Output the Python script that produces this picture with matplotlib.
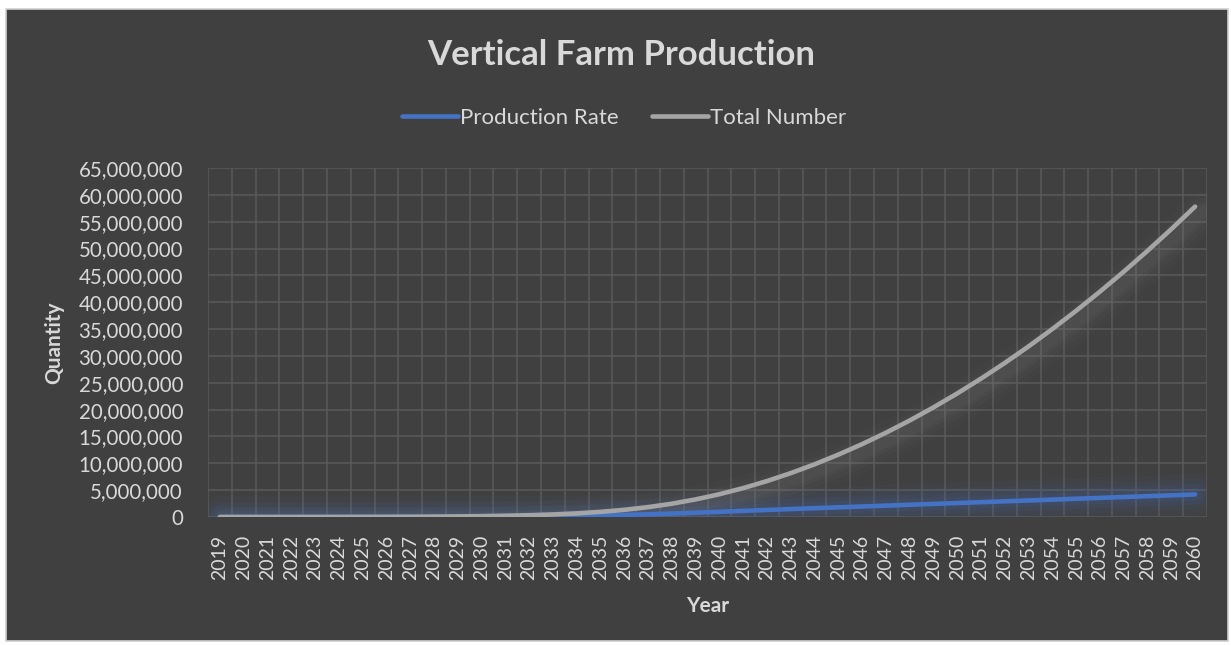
import matplotlib
matplotlib.use("Agg")
import matplotlib.pyplot as plt
from matplotlib.patches import Rectangle
from matplotlib.ticker import FuncFormatter, MultipleLocator, FixedLocator

years = list(range(2019, 2061))

production_rate = [
    120, 240, 480, 960, 1900, 3800, 7500, 12000, 18000, 26000,
    37000, 52000, 72000, 100000, 140000, 200000, 280000, 380000, 500000, 640000,
    800000, 970000, 1140000, 1310000, 1480000, 1640000, 1800000, 1960000, 2120000, 2280000,
    2440000, 2600000, 2760000, 2920000, 3080000, 3240000, 3400000, 3560000, 3720000, 3880000,
    4040000, 4200000,
]

total_number = [
    120, 360, 840, 1800, 3700, 7500, 15000, 27000, 45000, 71000,
    108000, 160000, 232000, 332000, 472000, 672000, 952000, 1332000, 1832000, 2472000,
    3272000, 4242000, 5382000, 6692000, 8172000, 9812000, 11612000, 13572000, 15692000, 17972000,
    20412000, 23012000, 25772000, 28692000, 31772000, 35012000, 38412000, 41972000, 45692000, 49572000,
    53612000, 57812000,
]

BG = "#404040"
GRID = "#585858"
TEXT = "#d9d9d9"
BLUE = "#4472c4"
GRAY = "#a5a5a5"
FONT = "Lato"

W, H = 1231, 645
fig = plt.figure(figsize=(W / 100, H / 100), dpi=100, facecolor="white")

# dark chart panel with a thin light border
bg = fig.add_axes([0, 0, 1, 1], zorder=0)
bg.set_xlim(0, W)
bg.set_ylim(H, 0)
bg.axis("off")
bg.add_patch(Rectangle((6, 9), W - 9, H - 13, facecolor=BG, edgecolor="#d0d0d0", linewidth=1.2))

ax = fig.add_axes([208 / W, 1 - 517 / H, (1207 - 208) / W, (517 - 168) / H], zorder=1)
ax.patch.set_alpha(0)

x = list(range(len(years)))

# soft glow under each series
for lw, a in [(30, 0.05), (22, 0.06), (15, 0.08), (9, 0.10)]:
    ax.plot(x, production_rate, color=BLUE, lw=lw, alpha=a, solid_capstyle="round", zorder=2)
for lw, a in [(28, 0.03), (20, 0.04), (13, 0.05), (8, 0.06)]:
    ax.plot([v + 0.35 for v in x], [v - 900000 for v in total_number], color="#9a9a9a",
            lw=lw, alpha=a, solid_capstyle="round", zorder=2)

ax.plot(x, production_rate, color=BLUE, lw=3.3, solid_capstyle="round", zorder=4,
        label="Production Rate")
ax.plot(x, total_number, color=GRAY, lw=3.3, solid_capstyle="round", zorder=4,
        label="Total Number")

ax.set_xlim(-0.5, len(years) - 0.5)
ax.set_ylim(0, 65000000)

ax.yaxis.set_major_locator(MultipleLocator(5000000))
ax.yaxis.set_major_formatter(FuncFormatter(lambda v, p: f"{int(v):,}"))
ax.set_xticks(x)
ax.set_xticklabels([str(y) for y in years], rotation=90, fontfamily=FONT, fontsize=14, color=TEXT)
ax.xaxis.set_minor_locator(FixedLocator([i - 0.5 for i in range(len(years) + 1)]))

for lab in ax.get_yticklabels():
    lab.set_fontfamily(FONT)
    lab.set_fontsize(14.8)
    lab.set_color(TEXT)

ax.grid(True, which="major", axis="y", color=GRID, lw=1.2, zorder=1)
ax.grid(True, which="minor", axis="x", color=GRID, lw=1.2, zorder=1)
ax.grid(False, which="major", axis="x")
ax.tick_params(axis="both", which="both", length=0)
ax.tick_params(axis="x", pad=13)
ax.tick_params(axis="y", pad=18)
for s in ax.spines.values():
    s.set_visible(False)

ax.set_ylabel("Quantity", fontfamily=FONT, fontsize=15, fontweight="bold", color=TEXT, labelpad=10)
ax.set_xlabel("Year", fontfamily=FONT, fontsize=15, fontweight="bold", color=TEXT, labelpad=11)

fig.text(0.505, 1 - 55 / H, "Vertical Farm Production", ha="center", va="center",
         fontfamily=FONT, fontsize=25, fontweight="bold", color=TEXT)

leg = fig.legend(loc="center", bbox_to_anchor=(0.507, 1 - 118 / H), ncol=2, frameon=False,
                 prop={"family": FONT, "size": 16}, labelcolor=TEXT,
                 handlelength=2.5, handletextpad=0.1, columnspacing=1.5)

fig.savefig("out.png", dpi=100, facecolor="white")
